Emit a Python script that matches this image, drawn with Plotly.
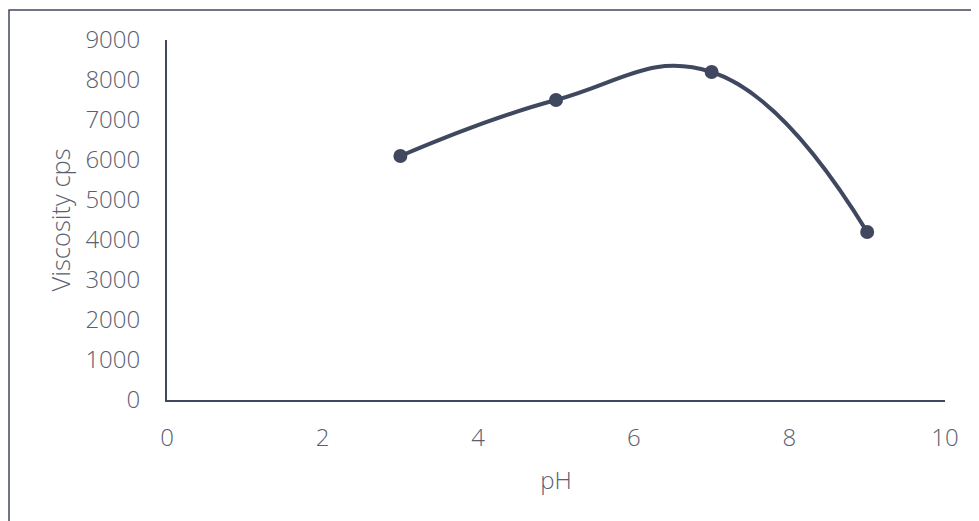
import plotly.graph_objects as go

ph = [3, 5, 7, 9]
viscosity = [6100, 7500, 8200, 4200]
x_ticks = [0, 2, 4, 6, 8, 10]
y_ticks = [0, 1000, 2000, 3000, 4000, 5000, 6000, 7000, 8000, 9000]

W, H = 979, 521
L, R, T, B = 159, 42, 32, 129
pw, ph_ = W - L - R, H - T - B

line_color = "#404860"
text_color = "#5a6070"

fig = go.Figure(go.Scatter(
    x=ph, y=viscosity, mode="lines+markers",
    line=dict(color=line_color, width=4, shape="spline", smoothing=1.25),
    marker=dict(color=line_color, size=14),
))

def px_x(p):
    return (p - L) / pw

def px_y(p):
    return (H - B - p) / ph_

fig.add_shape(type="rect", xref="paper", yref="paper",
              x0=px_x(1), x1=px_x(W + 20), y0=px_y(H + 20), y1=px_y(2),
              line=dict(color=line_color, width=1.5), layer="below")

font = dict(family="Open Sans", size=24, color=text_color, weight=300)
title_font = dict(family="Open Sans", size=25.5, color=text_color, weight=300)

fig.update_layout(
    width=W, height=H,
    margin=dict(l=L, r=R, t=T, b=B),
    plot_bgcolor="white", paper_bgcolor="white",
    showlegend=False,
    font=font,
    xaxis=dict(range=[0, 10], tickvals=x_ticks, showgrid=False, zeroline=False,
               showline=True, linecolor=line_color, linewidth=2, ticks="",
               ticklabelstandoff=15,
               title=dict(text="pH", font=font, standoff=20)),
    yaxis=dict(range=[0, 9000], tickvals=y_ticks, showgrid=False, zeroline=False,
               showline=True, linecolor=line_color, linewidth=2, ticks="",
               ticklabelstandoff=20,
               title=dict(text="Viscosity cps", font=title_font, standoff=7)),
)

fig.write_html("out.html")
